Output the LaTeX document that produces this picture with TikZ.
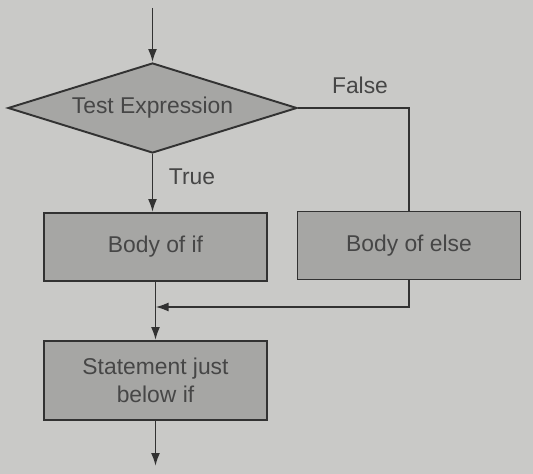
\documentclass[tikz,border=0pt]{standalone}
\usepackage{fontspec}
\setmainfont{Liberation Sans}
\usepackage{xcolor}
\usepackage{tikz}
\usetikzlibrary{positioning}
\usetikzlibrary{shapes.geometric}
\usetikzlibrary{arrows.meta}
\definecolor{paper}{RGB}{201,201,199}
\definecolor{boxgray}{RGB}{166,166,164}
\definecolor{ink}{RGB}{50,50,50}
\definecolor{txt}{RGB}{70,70,70}

\tikzset{
    flow/.style={draw=ink, line width=1.1pt},
    arr/.style={flow, -{Latex[length=2.6mm,width=1.8mm]}},
    block/.style={draw=ink, line width=1.1pt, fill=boxgray, text=txt, minimum width=4.46cm, minimum height=1.36cm, align=center, font=\fontsize{13}{16}\selectfont},
    decision/.style={diamond, shape aspect=3.2, draw=ink, line width=1.1pt, fill=boxgray, text=txt, minimum width=5.78cm, minimum height=1.8cm, inner sep=0pt, font=\fontsize{13}{16}\selectfont},
    tag/.style={text=txt, font=\fontsize{13}{16}\selectfont}
}

\begin{document}
\begin{tikzpicture}
    \fill[paper] (0,0) rectangle (10.66,-9.48);
    \useasboundingbox (0,0) rectangle (10.66,-9.48);

    \coordinate (start) at (3.05,-0.16);
    \node[decision] (test) at (3.05,-2.16) {Test Expression};
    \node[block] (ifbody) at (3.11,-4.94) {Body of if};
    \node[block] (elsebody) at (8.18,-4.91) {Body of else};
    \node[block, minimum height=1.58cm] (stmt) at (3.11,-7.61) {Statement just\\below if};
    \coordinate (join) at (3.11,-6.14);
    \coordinate (finish) at (3.11,-9.32);

    \node[tag] (truelbl) at (3.84,-3.54) {True};
    \node[tag] (falselbl) at (7.2,-1.7) {False};

    \draw[arr] (start) -- (test.north);
    \draw[arr] (test.south) -- (test.south |- ifbody.north);
    \draw[flow] (test.east) -| (elsebody.north);
    \draw[flow] (ifbody.south) -- (join);
    \draw[arr] (elsebody.south) |- (join);
    \draw[arr] (join) -- (stmt.north);
    \draw[arr] (stmt.south) -- (finish);
\end{tikzpicture}
\end{document}
